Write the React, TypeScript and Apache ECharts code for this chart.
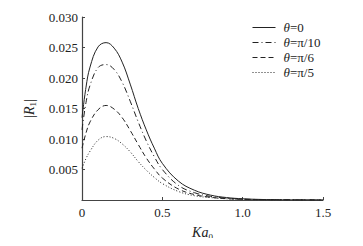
import React, { useEffect, useRef } from "react";
import * as echarts from "echarts";

const ka = [0, 0.025, 0.05, 0.1, 0.15, 0.2, 0.25, 0.3, 0.35, 0.4, 0.45, 0.5, 0.6, 0.7, 0.8, 0.9, 1.0, 1.1, 1.2, 1.3, 1.4, 1.5];
const theta0 = [0.0135, 0.0185, 0.0218, 0.0251, 0.0258, 0.0249, 0.0226, 0.019, 0.015, 0.0115, 0.0085, 0.006, 0.0031, 0.0016, 0.0008, 0.0004, 0.0002, 0.0001, 0.00005, 0.00002, 0.00001, 0];
const thetaPi10 = [0.0115, 0.016, 0.0188, 0.0217, 0.0222, 0.0214, 0.0193, 0.0162, 0.0128, 0.0097, 0.0071, 0.005, 0.0024, 0.0012, 0.0006, 0.0003, 0.00015, 0.00008, 0.00004, 0.00002, 0.00001, 0];
const thetaPi6 = [0.0085, 0.011, 0.0128, 0.0148, 0.0155, 0.0149, 0.0135, 0.0114, 0.0091, 0.0069, 0.0051, 0.0036, 0.0018, 0.0009, 0.00045, 0.00022, 0.0001, 0.00006, 0.00003, 0.00002, 0.00001, 0];
const thetaPi5 = [0.0052, 0.0068, 0.008, 0.0098, 0.0104, 0.0101, 0.0092, 0.0079, 0.0063, 0.0049, 0.0037, 0.0027, 0.0014, 0.0007, 0.0004, 0.0002, 0.0001, 0.00006, 0.00004, 0.00003, 0.00002, 0.00001];
const seriesNames = ["θ=0", "θ=π/10", "θ=π/6", "θ=π/5"];
const seriesValues = [theta0, thetaPi10, thetaPi6, thetaPi5];
const dashTypes: any[] = ["solid", [6, 3, 1, 3], [5, 3], [1, 2]];

const FONT = "'Liberation Serif', 'DejaVu Serif', serif";
const INK = "#222";

export default function App() {
  const ref = useRef<HTMLDivElement>(null);
  useEffect(() => {
    if (!ref.current) return;
    const chart = echarts.init(ref.current, undefined, { renderer: "svg" });
    const subRich = {
      i: { fontFamily: FONT, fontSize: 14, fontStyle: "italic", color: INK, lineHeight: 17, verticalAlign: "middle" },
      n: { fontFamily: FONT, fontSize: 14, color: INK, lineHeight: 17, verticalAlign: "middle" },
      s: { fontFamily: FONT, fontSize: 9, color: INK, lineHeight: 9, verticalAlign: "bottom" },
    };
    chart.setOption({
      animation: false,
      backgroundColor: "#fff",
      textStyle: { fontFamily: FONT },
      grid: { left: 82, right: 40, top: 17, bottom: 40 },
      legend: {
        orient: "vertical",
        left: 247,
        top: 16,
        itemWidth: 23,
        itemHeight: 12,
        itemGap: 2,
        data: seriesNames,
        itemStyle: { opacity: 0 },
        lineStyle: { width: 1 },
        formatter: (name: string) => `{i|θ}{n|${name.slice(1)}}`,
        textStyle: {
          fontFamily: FONT,
          fontSize: 13,
          color: INK,
          padding: [0, 0, 0, 3],
          rich: {
            i: { fontFamily: FONT, fontSize: 13, fontStyle: "italic", color: INK },
            n: { fontFamily: FONT, fontSize: 13, color: INK },
          },
        },
      },
      xAxis: {
        type: "value",
        min: 0,
        max: 1.5,
        interval: 0.5,
        name: "{i|Ka}{s|0}",
        nameLocation: "middle",
        nameGap: 24,
        nameTextStyle: { rich: subRich },
        axisLine: { lineStyle: { color: "#444", width: 1.2 } },
        axisTick: { inside: true, length: 3, lineStyle: { color: "#444" } },
        axisLabel: {
          fontFamily: FONT,
          fontSize: 13,
          color: INK,
          margin: 6,
          formatter: (v: number) => (v === 0 ? "0" : v.toFixed(1)),
        },
        splitLine: { show: false },
      },
      yAxis: {
        type: "value",
        min: 0,
        max: 0.03,
        interval: 0.005,
        name: "{n||}{i|R}{s|1}{n||}",
        nameLocation: "middle",
        nameGap: 44,
        nameRotate: 90,
        nameTextStyle: { rich: subRich },
        axisLine: { show: true, lineStyle: { color: "#444", width: 1.2 } },
        axisTick: { show: true, inside: true, length: 3, lineStyle: { color: "#444" } },
        axisLabel: {
          fontFamily: FONT,
          fontSize: 13,
          color: INK,
          margin: 4,
          formatter: (v: number) => (v === 0 ? "" : v.toFixed(3)),
        },
        splitLine: { show: false },
      },
      series: seriesNames.map((name, i) => ({
        name,
        type: "line",
        symbol: "none",
        smooth: 0.4,
        data: ka.map((x, j) => [x, seriesValues[i][j]]),
        lineStyle: { color: INK, width: 1, type: dashTypes[i] },
        itemStyle: { color: INK },
      })),
    });
    return () => chart.dispose();
  }, []);
  return <div ref={ref} style={{ width: 363, height: 246, margin: -8 }} />;
}
